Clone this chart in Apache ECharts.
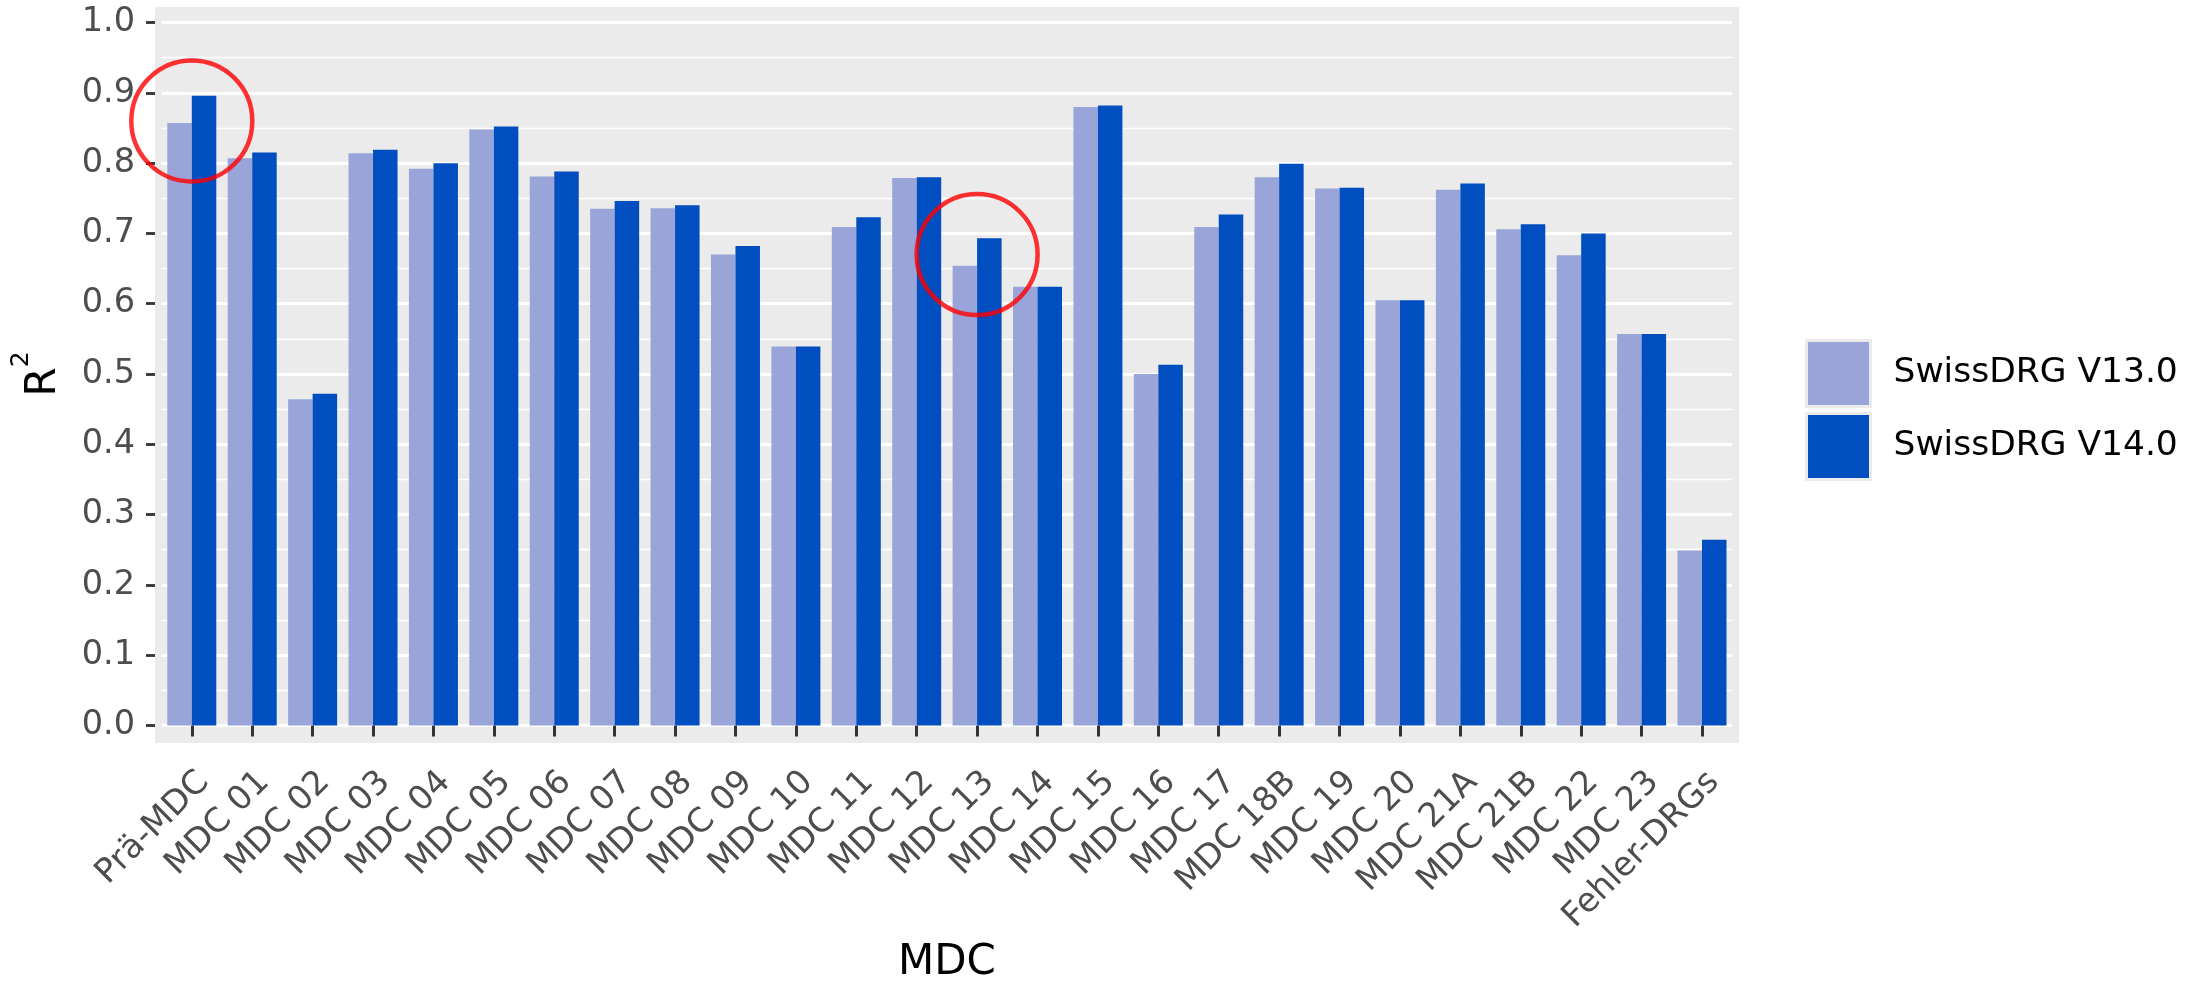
<!DOCTYPE html>
<html>
<head>
<meta charset="utf-8">
<script src="https://cdn.jsdelivr.net/npm/echarts@6/dist/echarts.min.js"></script>
<style>
  html, body { margin: 0; padding: 0; background: #ffffff; }
  #chart { width: 2211px; height: 989px; }
</style>
</head>
<body>
<div id="chart"></div>
<script>
// ---- data ----
const categories = ['Prä-MDC', 'MDC 01', 'MDC 02', 'MDC 03', 'MDC 04', 'MDC 05', 'MDC 06', 'MDC 07', 'MDC 08',
  'MDC 09', 'MDC 10', 'MDC 11', 'MDC 12', 'MDC 13', 'MDC 14', 'MDC 15', 'MDC 16', 'MDC 17', 'MDC 18B',
  'MDC 19', 'MDC 20', 'MDC 21A', 'MDC 21B', 'MDC 22', 'MDC 23', 'Fehler-DRGs'];
const seriesNames = ['SwissDRG V13.0', 'SwissDRG V14.0'];
const v13 = [0.857, 0.807, 0.464, 0.814, 0.792, 0.848, 0.781, 0.735, 0.736, 0.670, 0.539, 0.709, 0.779,
  0.654, 0.624, 0.880, 0.500, 0.709, 0.780, 0.764, 0.605, 0.762, 0.706, 0.669, 0.557, 0.249];
const v14 = [0.896, 0.815, 0.472, 0.819, 0.800, 0.852, 0.788, 0.746, 0.740, 0.682, 0.539, 0.723, 0.780,
  0.693, 0.624, 0.882, 0.513, 0.727, 0.799, 0.765, 0.605, 0.771, 0.713, 0.700, 0.557, 0.264];
// highlighted (circled) positions
const circleCats = ['Prä-MDC', 'MDC 13'];
const circleVals = [0.86, 0.67];
const yTicks = [0, 0.1, 0.2, 0.3, 0.4, 0.5, 0.6, 0.7, 0.8, 0.9, 1.0];

const FONT = 'DejaVu Sans';
const chart = echarts.init(document.getElementById('chart'), null, { renderer: 'canvas' });

const option = {
  backgroundColor: '#ffffff',
  animation: false,
  graphic: {
    elements: [{
      type: 'rect', silent: true, z: -10,
      shape: { x: 155, y: 7, width: 1584, height: 736 },
      style: { fill: '#EBEBEB' }
    }]
  },
  grid: { left: 161.6, right: 478.8, top: 22.6, bottom: 258.6, containLabel: false },
  legend: {
    data: seriesNames,
    orient: 'vertical',
    left: 1800, top: 334,
    itemWidth: 64, itemHeight: 66, itemGap: 4,
    icon: 'rect',
    itemStyle: { borderColor: '#EBEBEB', borderWidth: 3 },
    textStyle: { fontFamily: FONT, fontSize: 34.5, color: '#000000', padding: [0, 0, 0, 18] }
  },
  xAxis: {
    type: 'category',
    data: categories,
    offset: 12.6,
    axisLine: { show: false },
    axisTick: { show: true, alignWithLabel: true, length: 11, lineStyle: { color: '#333333', width: 3 } },
    axisLabel: {
      interval: 0, rotate: 45, margin: 27,
      align: 'right', verticalAlign: 'top',
      fontFamily: FONT, fontSize: 33.5, color: '#4D4D4D'
    },
    splitLine: { show: false },
    name: 'MDC',
    nameLocation: 'middle',
    nameGap: 204,
    nameTextStyle: { fontFamily: FONT, fontSize: 42, color: '#000000', lineHeight: 42 }
  },
  yAxis: {
    type: 'value',
    min: 0, max: 1, interval: 0.1,
    offset: 6.6,
    axisLine: { show: false },
    axisTick: { show: true, length: 9, lineStyle: { color: '#333333', width: 2.8 } },
    axisLabel: {
      margin: 20, fontFamily: FONT, fontSize: 33.5, color: '#4D4D4D',
      formatter: v => (yTicks.indexOf(Math.round(v * 10) / 10) >= 0 ? v.toFixed(1) : '')
    },
    splitLine: { show: true, lineStyle: { color: '#FFFFFF', width: 2.8 } },
    minorTick: { show: false, splitNumber: 2 },
    minorSplitLine: { show: true, lineStyle: { color: '#FFFFFF', width: 1.4 } },
    name: '{r|R}{s|2}',
    nameLocation: 'middle',
    nameRotate: 90,
    nameGap: 90,
    nameTextStyle: {
      fontFamily: FONT, color: '#000000',
      rich: {
        r: { fontFamily: FONT, fontSize: 42, padding: [14, 0, 0, 0], verticalAlign: 'top', color: '#000' },
        s: { fontFamily: FONT, fontSize: 25, verticalAlign: 'top', color: '#000' }
      }
    }
  },
  series: [
    {
      name: seriesNames[0], type: 'bar', data: v13,
      barWidth: 24.5, barGap: '0%', z: 2,
      itemStyle: { color: '#99A5D9' }
    },
    {
      name: seriesNames[1], type: 'bar', data: v14,
      barWidth: 24.5, barGap: '0%', z: 2,
      itemStyle: { color: '#004EC0' }
    },
    {
      name: 'highlight', type: 'scatter', silent: true, z: 5,
      data: circleCats.map((c, i) => [c, circleVals[i]]),
      symbol: 'circle', symbolSize: 121,
      itemStyle: { color: 'rgba(0,0,0,0)', borderColor: '#FF0000', borderWidth: 4.5 }
    }
  ]
};
chart.setOption(option);
</script>
</body>
</html>
